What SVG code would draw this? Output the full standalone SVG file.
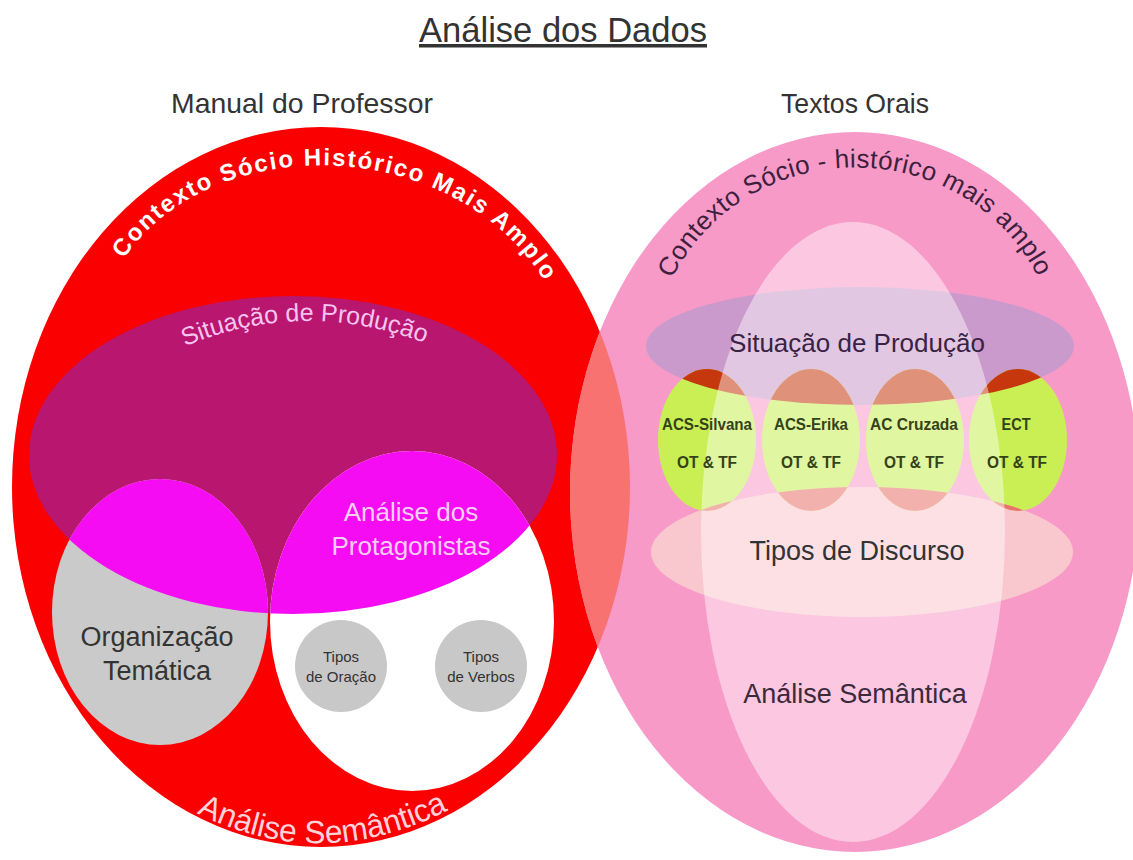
<svg xmlns="http://www.w3.org/2000/svg" width="1133" height="860" viewBox="0 0 1133 860">
<style>
  text { font-family: "Liberation Sans", Arial, sans-serif; }
  .c { text-anchor: middle; }
  .head { font-size: 28px; fill: #333; }
  .grn { fill: #c9ef55; }
  .grnlbl { font-size: 16px; font-weight: bold; fill: #34421a; text-anchor: middle; }
  .small { font-size: 15px; fill: #333; text-anchor: middle; }
</style>
<defs>
  <clipPath id="clipRed"><ellipse cx="321" cy="487" rx="309" ry="360"/></clipPath>
  <clipPath id="clipLeftCircles">
    <ellipse cx="160" cy="612" rx="108" ry="133"/>
    <ellipse cx="412" cy="621" rx="142" ry="170"/>
  </clipPath>
  <clipPath id="clipSit"><ellipse cx="860" cy="346" rx="214" ry="59"/></clipPath>
  <clipPath id="clipTipos"><ellipse cx="862" cy="552" rx="211" ry="65"/></clipPath>
  <path id="arcTopL" d="M 108,288 C 180,121 476,121 560,310"/>
  <path id="arcTopR" d="M 662,302 C 728,123 982,123 1048,300"/>
  <path id="arcSitL" d="M 168,354 Q 302,290 442,350"/>
  <path id="arcSemL" d="M 183,806 Q 320,882 462,803"/>
</defs>

<rect width="1133" height="860" fill="#ffffff"/>

<g id="title">
  <text x="563" y="42" class="c" textLength="288" lengthAdjust="spacingAndGlyphs" style="font-size:35px; fill:#333; text-decoration:underline;">Análise dos Dados</text>
</g>
<g id="heading-left"><text x="302" y="113" class="c head" textLength="262" lengthAdjust="spacingAndGlyphs">Manual do Professor</text></g>
<g id="heading-right"><text x="855" y="113" class="c head" textLength="148" lengthAdjust="spacingAndGlyphs">Textos Orais</text></g>

<!-- LEFT DIAGRAM -->
<g id="left-contexto">
  <ellipse cx="321" cy="487" rx="309" ry="360" fill="#fa0000"/>
</g>
<g id="left-situacao">
  <ellipse cx="293" cy="455" rx="264" ry="159" fill="#b8166f"/>
</g>
<g id="left-organizacao">
  <ellipse cx="160" cy="612" rx="108" ry="133" fill="#cacaca"/>
</g>
<g id="left-protagonistas">
  <ellipse cx="412" cy="621" rx="142" ry="170" fill="#ffffff"/>
</g>
<g id="left-overlap" clip-path="url(#clipLeftCircles)">
  <ellipse cx="293" cy="455" rx="264" ry="159" fill="#f50cf2"/>
</g>
<g id="left-tipos-oracao">
  <circle cx="341" cy="666" r="46" fill="#c8c8c8"/>
  <text class="small" x="341" y="662">Tipos</text>
  <text class="small" x="341" y="682">de Oração</text>
</g>
<g id="left-tipos-verbos">
  <circle cx="481" cy="666" r="46" fill="#c8c8c8"/>
  <text class="small" x="481" y="662">Tipos</text>
  <text class="small" x="481" y="682">de Verbos</text>
</g>

<!-- RIGHT DIAGRAM -->
<g id="right-contexto">
  <ellipse cx="855" cy="492" rx="285" ry="360" fill="#f79ac8"/>
  <g clip-path="url(#clipRed)">
    <ellipse cx="855" cy="492" rx="285" ry="360" fill="#f87272"/>
  </g>
</g>
<g id="right-situacao">
  <ellipse cx="860" cy="346" rx="214" ry="59" fill="#c99acb"/>
</g>
<g id="right-tipos-discurso">
  <ellipse cx="862" cy="552" rx="211" ry="65" fill="#f9c7ce"/>
</g>
<g id="right-ovals">
  <ellipse class="grn" cx="707" cy="440" rx="49" ry="71"/>
  <ellipse class="grn" cx="811" cy="440" rx="49" ry="71"/>
  <ellipse class="grn" cx="915" cy="440" rx="49" ry="71"/>
  <ellipse class="grn" cx="1018" cy="440" rx="49" ry="71"/>
  <g clip-path="url(#clipSit)" fill="#c6370e">
    <ellipse cx="707" cy="440" rx="49" ry="71"/>
    <ellipse cx="811" cy="440" rx="49" ry="71"/>
    <ellipse cx="915" cy="440" rx="49" ry="71"/>
    <ellipse cx="1018" cy="440" rx="49" ry="71"/>
  </g>
  <g clip-path="url(#clipTipos)" fill="#ea716c">
    <ellipse cx="707" cy="440" rx="49" ry="71"/>
    <ellipse cx="811" cy="440" rx="49" ry="71"/>
    <ellipse cx="915" cy="440" rx="49" ry="71"/>
    <ellipse cx="1018" cy="440" rx="49" ry="71"/>
  </g>
</g>
<g id="right-semantica">
  <ellipse cx="853" cy="532" rx="152" ry="310" fill="#ffffff" fill-opacity="0.45"/>
</g>

<!-- TEXTS -->
<g id="labels-left">
  <text style="font-size:24px; font-weight:bold; fill:#ffffff;"><textPath href="#arcTopL" startOffset="50%" text-anchor="middle" textLength="490" lengthAdjust="spacing">Contexto Sócio Histórico Mais Amplo</textPath></text>
  <text style="font-size:25px; fill:#f6c4ef;"><textPath href="#arcSitL" startOffset="50%" text-anchor="middle">Situação de Produção</textPath></text>
  <text x="411" y="521" class="c" style="font-size:26px; fill:#f7cff2;">Análise dos</text>
  <text x="411" y="555" class="c" style="font-size:26px; fill:#f7cff2;">Protagonistas</text>
  <text x="157" y="646" class="c" style="font-size:27px; fill:#333;">Organização</text>
  <text x="157" y="680" class="c" style="font-size:27px; fill:#333;">Temática</text>
  <text style="font-size:32px; fill:#ffd2da;"><textPath href="#arcSemL" startOffset="50%" text-anchor="middle" textLength="262" lengthAdjust="spacingAndGlyphs">Análise Semântica</textPath></text>
</g>
<g id="labels-right">
  <text style="font-size:26px; fill:#3e1f3e;"><textPath href="#arcTopR" startOffset="50%" text-anchor="middle" textLength="450" lengthAdjust="spacing">Contexto Sócio - histórico mais amplo</textPath></text>
  <text x="857" y="352" class="c" style="font-size:26px; fill:#3b2244;">Situação de Produção</text>
  <text class="grnlbl" x="707" y="430" textLength="90" lengthAdjust="spacingAndGlyphs">ACS-Silvana</text>
  <text class="grnlbl" x="707" y="468" textLength="60" lengthAdjust="spacingAndGlyphs">OT &amp; TF</text>
  <text class="grnlbl" x="811" y="430" textLength="74" lengthAdjust="spacingAndGlyphs">ACS-Erika</text>
  <text class="grnlbl" x="811" y="468" textLength="60" lengthAdjust="spacingAndGlyphs">OT &amp; TF</text>
  <text class="grnlbl" x="914" y="430" textLength="88" lengthAdjust="spacingAndGlyphs">AC Cruzada</text>
  <text class="grnlbl" x="914" y="468" textLength="60" lengthAdjust="spacingAndGlyphs">OT &amp; TF</text>
  <text class="grnlbl" x="1016" y="430" textLength="29" lengthAdjust="spacingAndGlyphs">ECT</text>
  <text class="grnlbl" x="1017" y="468" textLength="60" lengthAdjust="spacingAndGlyphs">OT &amp; TF</text>
  <text x="857" y="560" class="c" style="font-size:27px; fill:#333;">Tipos de Discurso</text>
  <text x="855" y="703" class="c" style="font-size:27px; fill:#3a2a3a;">Análise Semântica</text>
</g>
</svg>
